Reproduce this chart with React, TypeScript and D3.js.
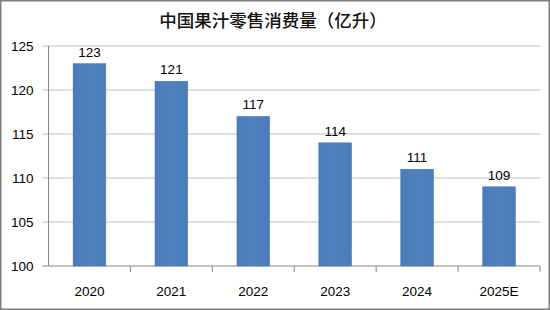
import React from "react";
import * as d3 from "d3";

const categories = ["2020", "2021", "2022", "2023", "2024", "2025E"];
const values = [123, 121, 117, 114, 111, 109];
const yTicks = [100, 105, 110, 115, 120, 125];
const title = "中国果汁零售消费量（亿升）";

const W = 550;
const H = 310;
const margin = { left: 48.5, right: 10, top: 46, bottom: 44 };

export default function App() {
  const x = d3
    .scaleBand<string>()
    .domain(categories)
    .range([margin.left, W - margin.right])
    .paddingInner(0.6)
    .paddingOuter(0.3);
  const y = d3.scaleLinear().domain([100, 125]).range([H - margin.bottom, margin.top]);
  const x0 = margin.left;
  const x1 = W - margin.right;
  const step = (x1 - x0) / categories.length;
  const numFont = "'Liberation Sans', Arial, sans-serif";

  return (
    <svg
      width={W}
      height={H}
      style={{ position: "absolute", left: 0, top: 0, background: "#fff" }}
    >
      <defs>
        <linearGradient id="bar" x1="0" y1="0" x2="1" y2="0">
          <stop offset="0" stopColor="#4a7cbb" />
          <stop offset="0.5" stopColor="#4f81bd" />
          <stop offset="1" stopColor="#4a7cbb" />
        </linearGradient>
      </defs>
      <rect x={0.75} y={0.75} width={W - 1.5} height={H - 1.5} fill="#fff" stroke="#7f7f7f" strokeWidth={1.5} />
      <text
        x={W / 2 - 2}
        y={27}
        textAnchor="middle"
        fontFamily="'Noto Sans CJK SC', sans-serif"
        fontWeight={500}
        fontSize={17.5}
        fill="#111"
      >
        {title}
      </text>
      {yTicks.map((t) => (
        <g key={t}>
          <line
            x1={x0 - 6}
            x2={x1}
            y1={y(t)}
            y2={y(t)}
            stroke={t === 100 ? "#868686" : "#bfbfbf"}
            strokeWidth={1}
          />
          <text
            x={x0 - 15}
            y={y(t)}
            dy="0.35em"
            textAnchor="end"
            fontFamily={numFont}
            fontSize={13.5}
            fill="#000"
          >
            {t}
          </text>
        </g>
      ))}
      <line x1={x0} x2={x0} y1={y(125)} y2={y(100)} stroke="#868686" strokeWidth={1} />
      {categories.map((c, i) => (
        <line
          key={"t" + c}
          x1={x0 + step * (i + 1)}
          x2={x0 + step * (i + 1)}
          y1={y(100)}
          y2={y(100) + 6}
          stroke="#868686"
        />
      ))}
      {categories.map((c, i) => (
        <g key={c}>
          <rect
            x={x(c)!}
            y={y(values[i])}
            width={x.bandwidth()}
            height={y(100) - y(values[i])}
            fill="url(#bar)"
            stroke="#4a7ab5"
            strokeWidth={0.5}
          />
          <text
            x={x(c)! + x.bandwidth() / 2}
            y={y(values[i]) - 7}
            textAnchor="middle"
            fontFamily={numFont}
            fontSize={13.5}
            fill="#000"
          >
            {values[i]}
          </text>
          <text
            x={x(c)! + x.bandwidth() / 2}
            y={y(100) + 30}
            textAnchor="middle"
            fontFamily={numFont}
            fontSize={13.5}
            fill="#000"
          >
            {c}
          </text>
        </g>
      ))}
    </svg>
  );
}
